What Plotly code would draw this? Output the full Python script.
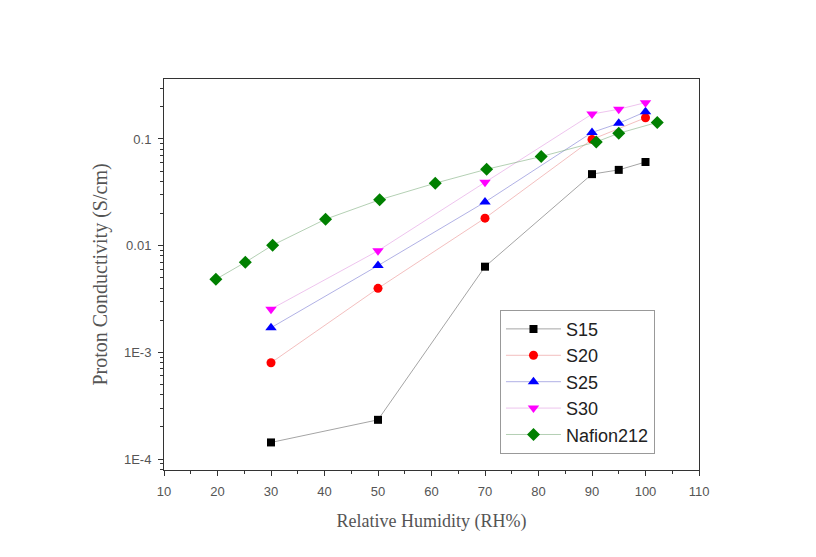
import plotly.graph_objects as go

rh_s = [30, 50, 70, 90, 95, 100]
s15 = [1.43e-4, 2.33e-4, 6.35e-3, 0.0468, 0.0513, 0.0608]
rh_s20 = [30, 50, 70, 90, 100]
s20 = [7.98e-4, 3.98e-3, 0.0181, 0.099, 0.158]
s25 = [1.70e-3, 6.5e-3, 0.0256, 0.115, 0.140, 0.180]
s30 = [2.54e-3, 8.95e-3, 0.0392, 0.171, 0.190, 0.219]
rh_naf = [19.7, 25.2, 30.3, 40.2, 50.3, 60.7, 70.3, 80.5, 90.8, 95.0, 102.2]
nafion = [4.84e-3, 6.98e-3, 0.0101, 0.0177, 0.0269, 0.0385, 0.052, 0.0684, 0.0938, 0.113, 0.143]

y_tickvals = [1e-4, 1e-3, 1e-2, 1e-1]
y_ticktext = ["1E-4", "1E-3", "0.01", "0.1"]

series = [
    ("S15", rh_s, s15, "#000000", "square", 8, "rgba(0,0,0,0.45)"),
    ("S20", rh_s20, s20, "#ff0000", "circle", 9, "rgba(230,120,120,0.6)"),
    ("S25", rh_s, s25, "#0000ff", "triangle-up", 10, "rgba(90,90,200,0.6)"),
    ("S30", rh_s, s30, "#ff00ff", "triangle-down", 10, "rgba(220,130,220,0.6)"),
    ("Nafion212", rh_naf, nafion, "#008000", "diamond", 10, "rgba(120,170,120,0.7)"),
]

fig = go.Figure()
for name, x, y, col, sym, sz, lcol in series:
    fig.add_trace(go.Scatter(
        x=x, y=y, name=name, mode="lines+markers",
        line=dict(color=lcol, width=0.8),
        marker=dict(symbol=sym, size=sz, color=col, line=dict(width=0)),
    ))

minor_y = [m * 10 ** e for e in range(-5, 0) for m in range(2, 10)]
minor_y = [v for v in minor_y if 7.9e-5 < v < 0.37]

fig.update_layout(
    width=816, height=557,
    margin=dict(l=156, r=125, t=71, b=95),
    paper_bgcolor="white", plot_bgcolor="white",
    font=dict(family="Liberation Sans, Arial", color="#555555"),
    showlegend=True,
    legend=dict(
        x=0.628, y=0.41, xanchor="left", yanchor="top",
        bordercolor="#999999", borderwidth=1, bgcolor="white",
        font=dict(size=18, color="#222222", family="Liberation Sans, Arial"),
        itemwidth=55, tracegroupgap=0,
    ),
    xaxis=dict(
        range=[10, 110], tickmode="linear", tick0=10, dtick=10,
        ticks="outside", ticklen=5, tickcolor="#333333", tickwidth=1,
        minor=dict(dtick=5, tick0=10, ticks="outside", ticklen=3, tickcolor="#333333"),
        showgrid=False, zeroline=False,
        showline=True, linecolor="#333333", linewidth=1, mirror=True,
        tickfont=dict(size=13, color="#555555"), ticklabelstandoff=4,
        title=dict(text="Relative Humidity (RH%)", font=dict(family="Liberation Serif, Times New Roman", size=18, color="#555555"), standoff=16),
    ),
    yaxis=dict(
        type="log", range=[-4.103, -0.438],
        tickmode="array", tickvals=y_tickvals, ticktext=y_ticktext,
        ticks="outside", ticklen=5, tickcolor="#333333", tickwidth=1,
        minor=dict(tickmode="array", tickvals=minor_y, ticks="outside", ticklen=3, tickcolor="#333333", showgrid=False),
        showgrid=False, zeroline=False,
        showline=True, linecolor="#333333", linewidth=1, mirror=True,
        tickfont=dict(size=13, color="#555555"), ticklabelstandoff=4,
        title=dict(text="Proton Conductivity (S/cm)", font=dict(family="Liberation Serif, Times New Roman", size=20, color="#555555"), standoff=10),
    ),
)

fig.write_html("out.html")
